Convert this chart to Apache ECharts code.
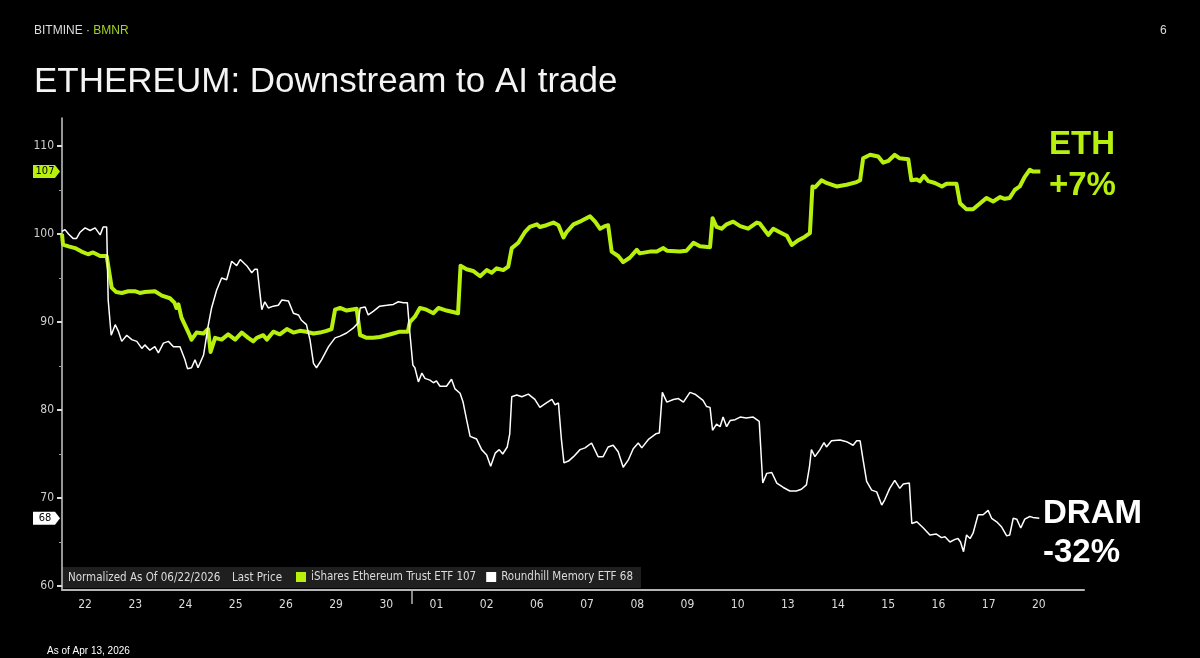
<!DOCTYPE html>
<html><head><meta charset="utf-8">
<script src="https://cdn.jsdelivr.net/npm/echarts@6/dist/echarts.min.js"></script>
<style>html,body{margin:0;padding:0;background:#000;}#c{width:1200px;height:658px;}</style>
</head><body><div id="c"></div>
<script>
// ---- data ----
const dayLabels = ['22','23','24','25','26','29','30','01','02','06','07','08','09','10','13','14','15','16','17','20'];
// [trading-day position, normalized value]
const ethData = [
[0.04,100.0],[0.06,98.8],[0.17,98.6],[0.30,98.4],[0.43,98.0],[0.56,97.7],[0.66,97.9],[0.80,97.5],[0.93,97.5],
[1.03,93.9],[1.12,93.4],[1.23,93.3],[1.36,93.5],[1.49,93.5],[1.59,93.3],[1.69,93.4],[1.89,93.5],[2.03,93.0],[2.19,92.7],[2.28,92.2],[2.32,91.6],[2.36,92.0],[2.42,90.5],[2.56,88.8],[2.62,88.0],[2.72,88.8],[2.86,88.7],[2.95,89.2],
[3.00,86.6],[3.09,88.2],[3.22,88.0],[3.35,88.6],[3.49,88.0],[3.62,88.8],[3.75,88.2],[3.85,87.8],
[3.92,88.2],[4.05,88.5],[4.12,88.0],[4.25,88.9],[4.38,88.6],[4.52,89.2],[4.65,88.8],[4.78,89.0],[4.91,88.9],
[5.05,88.7],[5.18,88.8],[5.31,89.0],[5.41,89.2],[5.48,91.4],[5.58,91.6],[5.71,91.3],[5.91,91.5],
[5.98,88.5],[6.11,88.2],[6.24,88.2],[6.37,88.3],[6.51,88.5],[6.64,88.7],[6.77,88.9],[6.93,88.9],
[6.97,90.0],[7.07,90.6],[7.17,91.6],[7.30,91.4],[7.44,91.0],[7.54,91.6],[7.70,91.3],[7.93,91.0],
[7.98,96.4],[8.10,96.0],[8.23,95.8],[8.37,95.2],[8.50,95.9],[8.60,95.6],[8.70,96.1],[8.83,95.9],[8.93,96.3],
[9.00,98.4],[9.13,99.0],[9.26,100.2],[9.36,100.8],[9.50,101.1],[9.56,100.8],[9.69,101.0],[9.83,101.3],[9.93,101.0],
[10.03,99.6],[10.09,100.2],[10.23,101.1],[10.39,101.5],[10.56,102.0],[10.66,101.4],[10.76,100.6],[10.86,100.9],[10.92,101.0],
[10.99,98.0],[11.12,97.5],[11.22,96.8],[11.35,97.3],[11.49,98.2],[11.55,97.8],[11.75,98.0],[11.89,98.0],
[12.02,98.4],[12.09,98.1],[12.35,98.0],[12.48,98.1],[12.62,99.0],[12.75,98.6],[12.95,98.5],
[13.00,101.8],[13.08,100.8],[13.18,100.6],[13.28,101.1],[13.41,101.4],[13.55,100.9],[13.71,100.6],[13.88,101.3],[13.94,101.2],
[14.11,99.9],[14.21,100.6],[14.34,100.2],[14.48,99.8],[14.58,98.75],[14.71,99.3],[14.84,99.7],[14.94,100.1],
[14.99,105.4],[15.04,105.3],[15.17,106.1],[15.27,105.8],[15.47,105.4],[15.67,105.6],[15.87,105.9],[15.94,106.1],
[16.00,108.6],[16.14,109.0],[16.30,108.8],[16.40,108.1],[16.50,108.3],[16.63,109.0],[16.73,108.6],[16.90,108.5],
[16.96,106.1],[17.07,106.2],[17.13,106.0],[17.21,106.6],[17.30,106.0],[17.43,105.8],[17.57,105.4],[17.66,105.7],[17.86,105.7],
[17.93,103.5],[18.06,102.8],[18.19,102.8],[18.29,103.3],[18.46,104.1],[18.59,103.7],[18.73,104.2],[18.82,104.0],[18.92,104.1],
[19.02,105.0],[19.12,105.4],[19.22,106.5],[19.32,107.3],[19.38,107.1],[19.53,107.1]
];
const dramData = [
[0.04,100.3],[0.10,100.5],[0.17,100.0],[0.26,99.5],[0.33,99.5],[0.40,100.2],[0.50,100.7],[0.60,100.4],[0.70,100.7],[0.80,99.9],[0.86,100.8],[0.93,100.8],
[0.96,92.5],[1.02,88.5],[1.10,89.7],[1.16,89.0],[1.23,87.8],[1.33,88.5],[1.43,88.0],[1.53,87.8],[1.63,87.0],[1.69,87.4],[1.79,86.8],[1.89,87.2],[1.96,86.5],
[2.06,87.6],[2.16,87.8],[2.26,87.2],[2.39,87.2],[2.49,85.7],[2.54,84.7],[2.62,84.8],[2.69,85.7],[2.75,84.8],[2.86,86.25],
[2.95,89.5],[3.02,91.6],[3.12,93.6],[3.22,95.0],[3.32,94.8],[3.42,96.9],[3.52,96.4],[3.59,97.1],[3.72,96.4],[3.82,95.6],[3.88,96.0],[3.93,96.0],
[4.02,91.4],[4.08,92.3],[4.15,91.6],[4.25,91.8],[4.35,91.9],[4.42,92.5],[4.55,92.4],[4.65,91.0],[4.75,90.8],[4.81,90.2],[4.91,89.7],[4.98,88.0],
[5.05,85.3],[5.11,84.8],[5.21,85.7],[5.35,87.2],[5.48,88.2],[5.58,88.4],[5.71,88.75],[5.84,89.3],[5.94,89.9],
[5.98,91.6],[6.08,91.7],[6.14,90.8],[6.24,91.2],[6.37,91.8],[6.51,91.9],[6.64,92.0],[6.74,92.3],[6.84,92.2],[6.92,92.2],
[6.97,88.75],[7.03,85.1],[7.07,84.8],[7.14,83.2],[7.21,84.2],[7.27,83.6],[7.37,83.4],[7.44,83.1],[7.50,83.3],[7.57,82.7],[7.70,82.7],[7.80,83.5],[7.87,82.4],[7.97,81.9],
[8.03,80.9],[8.10,78.9],[8.17,77.0],[8.30,76.7],[8.40,75.5],[8.50,74.9],[8.58,73.6],[8.67,75.1],[8.75,75.5],[8.82,75.0],[8.91,75.8],[8.96,77.3],
[9.00,81.5],[9.10,81.7],[9.20,81.5],[9.33,81.8],[9.46,81.2],[9.56,80.3],[9.69,80.8],[9.80,81.2],[9.86,80.6],[9.93,80.8],
[9.99,76.6],[10.04,74.0],[10.13,74.2],[10.23,74.7],[10.36,75.5],[10.46,75.7],[10.59,76.25],[10.72,74.7],[10.82,74.7],[10.92,75.8],
[11.02,76.0],[11.12,75.25],[11.22,73.5],[11.32,74.3],[11.42,75.6],[11.52,76.25],[11.59,75.7],[11.73,76.7],[11.87,77.3],[11.94,77.4],
[12.00,82.0],[12.09,80.9],[12.22,81.2],[12.32,81.3],[12.42,80.9],[12.55,82.0],[12.65,81.8],[12.81,81.1],[12.88,80.4],[12.95,80.3],
[13.00,77.7],[13.08,78.4],[13.15,78.1],[13.21,79.2],[13.28,78.1],[13.35,78.8],[13.45,78.9],[13.55,79.2],[13.67,79.1],[13.81,79.2],[13.93,78.7],
[14.00,71.7],[14.08,72.8],[14.18,72.9],[14.28,71.7],[14.41,71.2],[14.54,70.8],[14.67,70.8],[14.77,71.0],[14.87,71.5],
[14.93,73.5],[14.97,75.5],[15.04,74.7],[15.14,75.5],[15.22,76.3],[15.27,75.8],[15.37,76.5],[15.54,76.6],[15.67,76.4],[15.80,76.0],[15.87,76.5],[15.94,76.5],
[16.00,74.3],[16.07,71.9],[16.17,70.9],[16.27,70.7],[16.37,69.2],[16.43,69.8],[16.53,71.1],[16.63,72.0],[16.73,71.1],[16.80,71.6],[16.92,71.7],
[16.97,67.1],[17.07,67.3],[17.20,66.6],[17.33,65.8],[17.46,65.9],[17.56,65.5],[17.63,65.6],[17.73,65.0],[17.83,65.3],[17.89,65.4],[17.94,65.0],
[18.00,63.9],[18.06,65.8],[18.13,65.4],[18.19,66.0],[18.29,68.1],[18.39,68.1],[18.49,68.6],[18.56,67.7],[18.66,67.3],[18.76,66.7],[18.86,65.7],[18.92,65.8],
[18.99,67.7],[19.06,67.6],[19.14,66.6],[19.22,67.6],[19.32,67.9],[19.38,67.8],[19.51,67.7]
];
const yTicks = [60,70,80,90,100,110];
const yMinorTicks = [65,75,85,95,105];
const monthBreak = [7];

// ---- styling ----
const NARROW = "'Liberation Sans Narrow','DejaVu Sans Condensed','Roboto Condensed',sans-serif";
const SANS = "'Liberation Sans',Arial,Helvetica,sans-serif";
const GREEN = '#b6f00c';
const ethLast = ethData[ethData.length-1][1];
const dramLast = dramData[dramData.length-1][1];
const ethName = 'iShares Ethereum Trust ETF ' + Math.round(ethLast);
const dramName = 'Roundhill Memory ETF ' + Math.round(dramLast);
const pct = v => { const p = Math.round(v - 100); return (p >= 0 ? '+' : '-') + Math.abs(p) + '%'; };

const chart = echarts.init(document.getElementById('c'), null, {renderer:'canvas'});
const Y_MIN = 59.55, Y_MAX = 113.18;
chart.setOption({
  backgroundColor:'#000',
  animation:false,
  grid:{left:62,right:116,top:118,bottom:68},
  xAxis:{
    type:'value', min:0.04, max:20.4,
    splitLine:{show:false},
    axisLine:{show:true,lineStyle:{color:'#b4b4b4',width:2}},
    axisTick:{show:true,customValues:monthBreak,length:14,lineStyle:{color:'#b4b4b4',width:1.5}},
    axisLabel:{customValues:dayLabels.map((d,i)=>i+0.5), formatter:v=>dayLabels[Math.floor(v)]||'',
      color:'#dcdcdc', fontSize:12, fontFamily:NARROW, margin:9}
  },
  yAxis:[{
    type:'value', min:Y_MIN, max:Y_MAX,
    splitLine:{show:false},
    axisLine:{show:true,lineStyle:{color:'#c8c8c8',width:1.5}},
    axisTick:{show:true,customValues:yTicks,length:5,lineStyle:{color:'#dcdcdc',width:2}},
    axisLabel:{customValues:yTicks,color:'#cfcfcf',fontSize:12,fontFamily:NARROW,margin:8}
  },{
    type:'value', position:'left', min:Y_MIN, max:Y_MAX,
    splitLine:{show:false}, axisLine:{show:false},
    axisTick:{show:true,customValues:yMinorTicks,length:3,lineStyle:{color:'#a0a0a0',width:1}},
    axisLabel:{show:false}
  }],
  legend:{
    left:291, top:568, icon:'rect', itemWidth:10, itemHeight:10, itemGap:10, padding:[3,5],
    textStyle:{color:'#dcdcdc',fontSize:11.5,fontFamily:NARROW},
    data:[ethName, dramName], selectedMode:false
  },
  series:[
    {name:ethName,type:'line',data:ethData,showSymbol:false,color:GREEN,
     lineStyle:{color:GREEN,width:4,join:'round'},z:2},
    {name:dramName,type:'line',data:dramData,showSymbol:false,color:'#ffffff',
     lineStyle:{color:'#ffffff',width:1.5},z:3}
  ]
});

const yE = chart.convertToPixel({yAxisIndex:0}, ethLast);
const yD = chart.convertToPixel({yAxisIndex:0}, dramLast);
const tag = (yc, fill, txt) => ([
  {type:'polygon', z:10, shape:{points:[[33,yc-6.5],[55,yc-6.5],[60,yc],[55,yc+6.5],[33,yc+6.5]]}, style:{fill:fill}},
  {type:'text', z:11, x:45, y:yc, style:{text:txt, fill:'#000', font:'11px '+NARROW, align:'center', verticalAlign:'middle'}}
]);

chart.setOption({graphic:[
  {type:'text', x:34, y:31, style:{text:'{a|BITMINE · }{b|BMNR}', verticalAlign:'middle',
     rich:{a:{fill:'#dddddd',font:'12px '+SANS},b:{fill:'#a2d21e',font:'12px '+SANS}}}},
  {type:'text', x:1160, y:31, style:{text:'6', fill:'#dddddd', font:'12px '+SANS, verticalAlign:'middle'}},
  {type:'text', x:34, y:82, style:{text:'ETHEREUM: Downstream to AI trade', fill:'#f4f4f4', font:'35px '+SANS, verticalAlign:'middle'}},
  {type:'text', x:47, y:651, style:{text:'As of Apr 13, 2026', fill:'#ffffff', font:'10px '+SANS, verticalAlign:'middle'}},
  {type:'rect', z:-1, shape:{x:62,y:567,width:579,height:21}, style:{fill:'#1f1f1f'}},
  {type:'text', x:68, y:578, style:{text:'Normalized As Of 06/22/2026', fill:'#dcdcdc', font:'11.5px '+NARROW, verticalAlign:'middle'}},
  {type:'text', x:232, y:578, style:{text:'Last Price', fill:'#dcdcdc', font:'11.5px '+NARROW, verticalAlign:'middle'}},
  {type:'text', x:1049, y:145, style:{text:'ETH', fill:GREEN, font:'bold 33px '+SANS, verticalAlign:'middle'}},
  {type:'text', x:1049, y:186, style:{text:pct(ethLast), fill:GREEN, font:'bold 33px '+SANS, verticalAlign:'middle'}},
  {type:'text', x:1043, y:514, style:{text:'DRAM', fill:'#ffffff', font:'bold 33px '+SANS, verticalAlign:'middle'}},
  {type:'text', x:1043, y:553, style:{text:pct(dramLast), fill:'#ffffff', font:'bold 33px '+SANS, verticalAlign:'middle'}},
  ...tag(yE, GREEN, String(Math.round(ethLast))),
  ...tag(yD, '#ffffff', String(Math.round(dramLast)))
]});
</script></body></html>
